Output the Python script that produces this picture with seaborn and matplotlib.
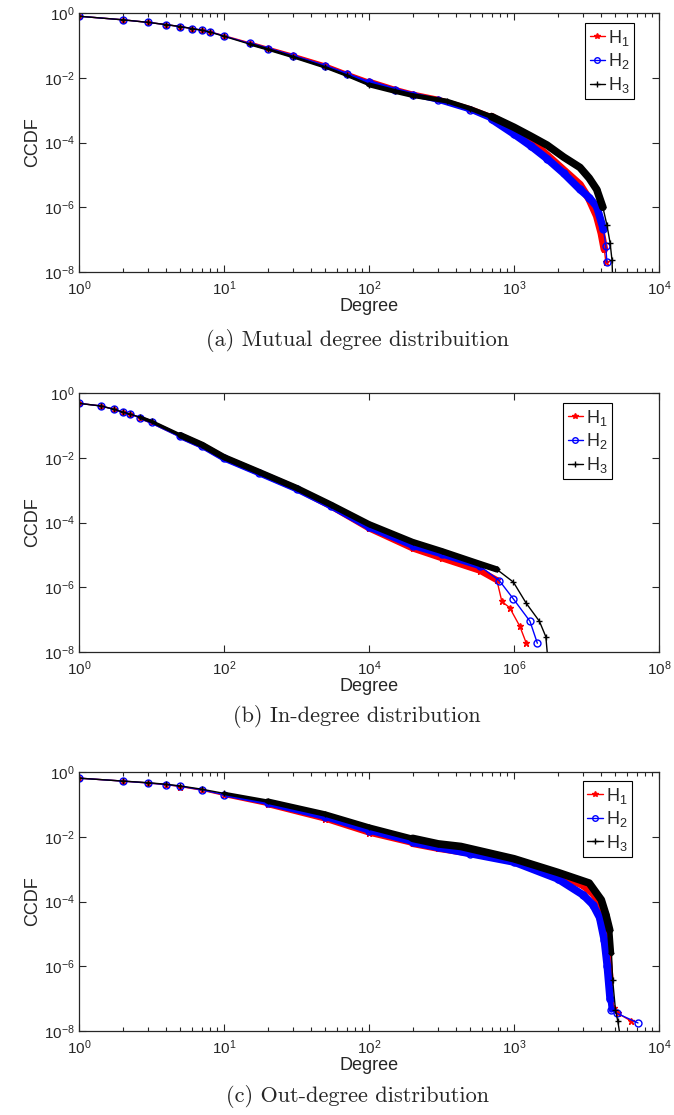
import numpy as np
import matplotlib
matplotlib.use("Agg")
import matplotlib.pyplot as plt
import seaborn as sns
from matplotlib.ticker import LogLocator, NullLocator

sns.set_style("ticks")
plt.rcParams['font.family'] = ['Liberation Sans', 'DejaVu Sans']
plt.rcParams['mathtext.fontset'] = 'custom'
plt.rcParams['mathtext.rm'] = 'Liberation Sans'
plt.rcParams['mathtext.it'] = 'Liberation Sans:italic'
plt.rcParams['mathtext.bf'] = 'Liberation Sans:bold'

# (a) mutual degree: degree and log10(CCDF) for each network
mut_h1_deg = [1, 2, 3, 4, 5, 6, 7, 8, 10, 15, 20, 30, 50, 70, 100, 150, 200, 300, 500, 700,
              1000, 1300, 1700, 2200, 2850, 3300, 3720, 4000, 4200, 4300]
mut_h1_log = [-0.10, -0.21, -0.29, -0.36, -0.42, -0.48, -0.53, -0.58, -0.70, -0.92, -1.08, -1.3, -1.6, -1.85,
              -2.1, -2.35, -2.5, -2.66, -2.95, -3.2, -3.6, -3.95, -4.4, -4.85, -5.3, -5.75, -6.27, -6.8, -7.3, -7.7]
mut_h2_deg = [1, 2, 3, 4, 5, 6, 7, 8, 10, 15, 20, 30, 50, 70, 100, 150, 200, 300, 500, 700,
              1000, 1300, 1690, 2200, 2850, 3300, 3720, 4130, 4300, 4370]
mut_h2_log = [-0.10, -0.21, -0.29, -0.36, -0.42, -0.48, -0.53, -0.58, -0.71, -0.94, -1.1, -1.33, -1.64, -1.88,
              -2.14, -2.38, -2.52, -2.7, -3.0, -3.28, -3.74, -4.1, -4.5, -4.95, -5.45, -5.7, -5.98, -6.67, -7.2, -7.7]
mut_h3_deg = [1, 2, 3, 4, 5, 6, 7, 8, 10, 15, 20, 30, 50, 70, 100, 150, 200, 345, 500, 700,
              1000, 1300, 1690, 2200, 2850, 3300, 3720, 4100, 4370, 4600, 4740, 4800]
mut_h3_log = [-0.10, -0.21, -0.29, -0.36, -0.42, -0.48, -0.53, -0.59, -0.72, -0.96, -1.12, -1.36, -1.68, -1.93,
              -2.22, -2.42, -2.55, -2.72, -2.95, -3.2, -3.53, -3.8, -4.08, -4.45, -4.77, -5.1, -5.45, -6.0,
              -6.54, -7.1, -7.63, -8.3]

# (b) in-degree
in_h1_deg = [1, 2, 3, 4, 5, 7, 10, 25, 50, 100, 300, 1e3, 3e3, 1e4, 4e4, 1e5, 3.4e5, 5.8e5,
             6.8e5, 8.7e5, 1.2e6, 1.48e6]
in_h1_log = [-0.32, -0.40, -0.50, -0.59, -0.65, -0.76, -0.90, -1.32, -1.62, -2.0, -2.45, -2.95, -3.5, -4.18,
             -4.8, -5.1, -5.49, -5.78, -6.44, -6.63, -7.2, -7.73]
in_h2_deg = [1, 2, 3, 4, 5, 7, 10, 25, 50, 100, 300, 1e3, 3e3, 1e4, 4e4, 1e5, 3.4e5, 6.3e5,
             9.8e5, 1.66e6, 2.1e6]
in_h2_log = [-0.32, -0.40, -0.50, -0.59, -0.65, -0.76, -0.90, -1.33, -1.63, -2.02, -2.47, -2.97, -3.5, -4.15,
             -4.72, -4.98, -5.35, -5.8, -6.36, -7.05, -7.73]
in_h3_deg = [1, 2, 3, 4, 5, 7, 10, 25, 50, 100, 300, 1e3, 3e3, 1e4, 4e4, 1e5, 3.4e5, 5.8e5,
             9.8e5, 1.48e6, 2.24e6, 2.75e6, 2.95e6]
in_h3_log = [-0.32, -0.40, -0.50, -0.59, -0.65, -0.75, -0.88, -1.3, -1.6, -1.98, -2.43, -2.93, -3.45, -4.05,
             -4.6, -4.88, -5.28, -5.45, -5.84, -6.5, -7.05, -7.53, -8.3]

# (c) out-degree
out_h1_deg = [1, 2, 3, 4, 5, 7, 10, 20, 50, 100, 200, 300, 500, 1000, 2000, 3000, 3500, 4000,
              4300, 4600, 4900, 5200, 6450]
out_h1_log = [-0.19, -0.28, -0.34, -0.39, -0.45, -0.56, -0.72, -1.0, -1.45, -1.88, -2.2, -2.35, -2.5, -2.72,
              -3.15, -3.5, -3.75, -4.1, -5.0, -6.5, -7.3, -7.45, -7.7]
out_h2_deg = [1, 2, 3, 4, 5, 7, 10, 20, 50, 100, 200, 300, 500, 1000, 2000, 3000, 3500, 3900,
              4200, 4400, 4600, 4700, 5100, 7160]
out_h2_log = [-0.19, -0.28, -0.34, -0.39, -0.44, -0.55, -0.70, -0.97, -1.4, -1.82, -2.17, -2.33, -2.52, -2.78,
              -3.3, -3.8, -4.1, -4.5, -5.2, -6.0, -7.0, -7.35, -7.45, -7.75]
out_h3_deg = [1, 2, 3, 4, 5, 7, 10, 20, 50, 100, 200, 300, 430, 1000, 2000, 3300, 4000, 4300,
              4570, 4700, 4790, 5010, 5200, 5370]
out_h3_log = [-0.19, -0.28, -0.33, -0.38, -0.43, -0.53, -0.66, -0.9, -1.3, -1.7, -2.05, -2.22, -2.3, -2.68,
              -3.1, -3.43, -3.95, -4.4, -4.88, -5.6, -6.42, -7.35, -7.7, -8.1]

labels = [r'H$_1$', r'H$_2$', r'H$_3$']
colors = ['red', 'blue', 'black']
markers = ['*', 'o', '+']

panels = [
    dict(series=[(mut_h1_deg, mut_h1_log), (mut_h2_deg, mut_h2_log), (mut_h3_deg, mut_h3_log)],
         xlim=(1, 1e4), xticks=[1e0, 1e1, 1e2, 1e3, 1e4], minor=True,
         bands=[(15, 4250, 2.0), (100, 4250, 3.5), (700, 4200, 5.5)],
         bottom=1 - 272 / 1115, leg=(0.957, 0.961),
         caption='(a) Mutual degree distribuition', cap_y=1 - 341 / 1115),
    dict(series=[(in_h1_deg, in_h1_log), (in_h2_deg, in_h2_log), (in_h3_deg, in_h3_log)],
         xlim=(1, 1e8), xticks=[1e0, 1e2, 1e4, 1e6, 1e8], minor=False,
         bands=[(7, 6e5, 2.5), (25, 6e5, 4.5)],
         bottom=1 - 652 / 1115, leg=(0.919, 0.961),
         caption='(b) In-degree distribution', cap_y=1 - 716 / 1115),
    dict(series=[(out_h1_deg, out_h1_log), (out_h2_deg, out_h2_log), (out_h3_deg, out_h3_log)],
         xlim=(1, 1e4), xticks=[1e0, 1e1, 1e2, 1e3, 1e4], minor=True,
         bands=[(10, 4700, 2.5), (20, 4700, 4), (200, 4650, 5.5)],
         bottom=1 - 1031 / 1115, leg=(0.953, 0.965),
         caption='(c) Out-degree distribution', cap_y=1 - 1097 / 1115),
]

fig = plt.figure(figsize=(6.74, 11.15), dpi=100)

for p in panels:
    ax = fig.add_axes([79 / 674, p['bottom'], 580 / 674, 259 / 1115])
    ax.set_xscale('log')
    ax.set_yscale('log')
    for (deg, logc), lab, col, mk in zip(p['series'], labels, colors, markers):
        deg = np.array(deg, dtype=float)
        ccdf = 10 ** np.array(logc)
        mfc = 'none' if mk == 'o' else col
        sns.lineplot(x=deg, y=ccdf, ax=ax, color=col, marker=mk, markersize=5,
                     markerfacecolor=mfc, markeredgecolor=col, markeredgewidth=1,
                     linewidth=1, label=lab, legend=False)
        # dense markers of the real data look like a thick band
        for lo, hi, lw in p['bands']:
            sel = (deg >= lo) & (deg <= hi)
            sns.lineplot(x=deg[sel], y=ccdf[sel], ax=ax, color=col, linewidth=lw,
                         solid_capstyle='round', legend=False)
    ax.set_xlim(*p['xlim'])
    ax.set_ylim(1e-8, 1)
    ax.set_xticks(p['xticks'])
    ax.set_yticks([1e-8, 1e-6, 1e-4, 1e-2, 1e0])
    ax.yaxis.set_minor_locator(NullLocator())
    if p['minor']:
        ax.xaxis.set_minor_locator(LogLocator(base=10, subs=np.arange(2, 10)))
    else:
        ax.xaxis.set_minor_locator(NullLocator())
    ax.tick_params(which='both', direction='in', top=True, right=True, colors='#262626',
                   labelsize=11, width=0.8)
    ax.tick_params(which='major', length=5)
    ax.tick_params(axis='x', which='major', pad=5)
    ax.tick_params(axis='y', which='major', pad=3)
    ax.tick_params(which='minor', length=3)
    for s in ax.spines.values():
        s.set_color('#262626')
        s.set_linewidth(0.9)
    ax.set_xlabel('Degree', fontsize=13, labelpad=0)
    ax.set_ylabel('CCDF', fontsize=13, labelpad=2)
    ax.legend(loc='upper right', bbox_to_anchor=p['leg'], fontsize=13, frameon=True,
              fancybox=False, edgecolor='black', framealpha=1, handlelength=0.85,
              handletextpad=0.15, borderpad=0.25, labelspacing=0.2, borderaxespad=0,
              markerscale=0.8)
    ax.get_legend().get_frame().set_linewidth(0.8)
    fig.text(357 / 674, p['cap_y'], p['caption'], family='cmr10', fontsize=16,
             ha='center', va='center')

fig.savefig('out.png', dpi=100)
